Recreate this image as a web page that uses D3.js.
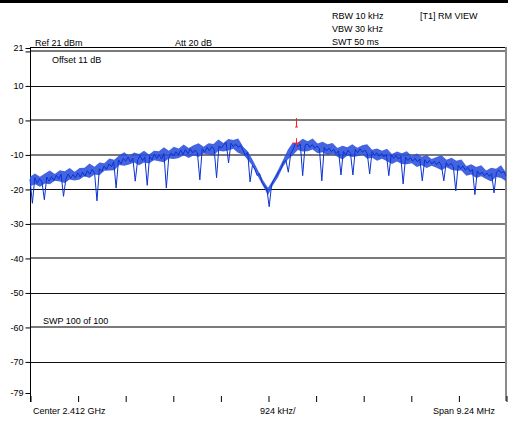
<!DOCTYPE html>
<html><head><meta charset="utf-8">
<script src="https://cdn.jsdelivr.net/npm/d3@7"></script>
<style>
html,body{margin:0;padding:0;background:#fff;}
svg text{font-family:"Liberation Sans",Arial,sans-serif;font-size:9px;fill:#000;}
</style></head>
<body>
<svg id="c" width="508" height="421"></svg>
<script>
// ---- data ----
const spanMHz = 9.24;                 // total span
const yTickValues = [21, 20, 10, 0, -10, -20, -30, -40, -50, -60, -70, -79];
const yTickLabels = ["21", "", "10", "0", "-10", "-20", "-30", "-40", "-50", "-60", "-70", "-79"];
const gridValues = [20, 10, 0, -10, -20, -30, -40, -50, -60, -70];
const xDivisions = [0,1,2,3,4,5,6,7,8,9,10];
const trace = [
 -17.0,-24.0,-16.6,-18.2,-16.9,-17.8,-23.0,-16.4,-17.6,-16.3,
 -17.4,-15.9,-16.9,-15.6,-22.0,-17.0,-15.5,-16.8,-15.7,-16.6,
 -15.2,-16.4,-15.0,-16.2,-14.6,-15.6,-14.2,-15.3,-23.3,-14.0,
 -14.8,-13.2,-14.2,-12.6,-13.4,-12.0,-19.6,-11.4,-12.6,-11.0,
 -11.8,-10.6,-12.0,-10.9,-17.6,-11.5,-10.2,-11.6,-10.6,-18.8,
 -10.4,-11.4,-9.8,-11.0,-10.0,-11.2,-9.6,-19.6,-10.8,-9.4,
 -10.3,-9.0,-10.0,-8.6,-9.8,-8.4,-9.6,-8.2,-9.4,-8.6,
 -9.4,-17.2,-8.2,-9.2,-7.8,-8.8,-7.6,-8.4,-16.6,-7.4,
 -8.0,-7.0,-6.4,-12.3,-6.6,-7.6,-6.8,-7.8,-7.2,-8.6,
 -10.0,-9.2,-17.8,-13.0,-14.2,-16.0,-15.4,-18.0,-19.0,-19.8,
 -25.0,-18.6,-17.0,-16.2,-14.8,-14.0,-12.0,-11.6,-15.0,-9.6,
 -8.4,-6.6,-7.6,-6.8,-16.0,-7.2,-6.8,-7.8,-7.0,-8.0,
 -7.4,-8.2,-17.5,-7.8,-8.8,-8.0,-9.0,-8.4,-9.6,-8.8,
 -15.8,-9.0,-10.0,-8.6,-9.6,-15.8,-8.4,-9.4,-8.2,-9.2,
 -8.6,-9.6,-15.5,-9.0,-10.0,-9.4,-10.4,-9.6,-10.6,-9.8,
 -16.0,-10.0,-11.0,-10.2,-11.2,-10.4,-18.4,-10.6,-11.6,-10.8,
 -11.8,-11.0,-12.0,-11.2,-17.5,-11.4,-12.4,-11.6,-12.6,-11.8,
 -12.8,-12.0,-13.0,-17.5,-12.2,-13.2,-12.4,-13.4,-20.4,-13.0,
 -14.0,-13.2,-14.4,-13.6,-14.8,-14.2,-21.5,-14.6,-15.6,-15.0,
 -16.0,-15.2,-16.2,-15.4,-21.0,-15.0,-14.4,-15.2,-14.8,-16.0
];
// noise band (max / min of the dense trace), 97 points across the span
const bandUpper = [
 -16.3,-15.4,-16.3,-15.4,-14.5,-15.5,-14.4,-14.7,-13.8,-14.9,
 -13.8,-13.7,-12.5,-13.4,-12.2,-12.4,-11.0,-11.4,-10.1,-9.2,
 -10.2,-9.3,-9.7,-8.8,-9.9,-8.8,-8.9,-7.8,-8.8,-7.6,
 -8.1,-7.0,-8.0,-7.2,-6.6,-7.6,-6.6,-6.8,-5.5,-6.5,
 -5.4,-5.7,-5.2,-7.6,-9.1,-11.7,-14.5,-17.3,-19.5,-17.2,
 -14.4,-11.5,-8.5,-6.4,-6.4,-5.3,-6.0,-5.2,-6.7,-6.2,
 -6.9,-6.5,-8.0,-7.3,-7.8,-6.9,-7.9,-7.2,-6.9,-8.5,
 -8.1,-8.8,-8.2,-9.7,-9.0,-9.5,-8.9,-10.3,-9.6,-10.5,
 -10.0,-11.2,-10.6,-10.1,-11.4,-10.8,-11.7,-11.3,-13.2,-12.7,
 -13.5,-13.0,-14.5,-13.7,-14.0,-13.0,-15.1
];
const bandLower = [
 -19.1,-18.5,-19.2,-18.3,-18.5,-17.5,-17.7,-18.1,-17.1,-17.4,
 -17.1,-16.2,-16.7,-15.7,-15.9,-14.6,-14.5,-14.4,-12.9,-13.1,
 -12.8,-12.2,-13.0,-12.2,-12.5,-11.5,-11.8,-12.1,-11.0,-11.2,
 -10.9,-10.1,-10.9,-10.1,-10.6,-9.6,-9.9,-10.2,-8.8,-9.0,
 -8.7,-8.2,-9.4,-9.9,-11.5,-13.4,-16.3,-19.0,-21.7,-18.8,
 -16.5,-13.5,-11.3,-10.1,-8.6,-9.0,-8.9,-8.4,-9.5,-9.2,
 -10.1,-9.7,-10.5,-11.3,-10.2,-10.6,-10.4,-9.9,-11.1,-10.8,
 -11.7,-11.1,-11.8,-12.6,-11.9,-12.6,-12.7,-12.4,-13.5,-13.0,
 -13.8,-13.1,-13.7,-14.4,-13.6,-14.3,-14.6,-14.5,-16.0,-15.7,
 -16.7,-16.2,-17.0,-17.7,-16.4,-16.7,-17.6
];
const markerMHz = 0.55;
const markerLevel = -6.6;
const markerIndicator = [0.7, -1.9];
const headerLeft = ["Ref 21 dBm", "Att  20 dB", "Offset 11 dB", "SWP 100 of 100"];
const headerRight = ["RBW 10 kHz", "VBW 30 kHz", "SWT 50 ms", "[T1] RM VIEW"];
const footer = ["Center 2.412 GHz", "924 kHz/", "Span 9.24 MHz"];

// ---- drawing ----
const svg = d3.select("#c");
const L = 30, R = 506, T = 48, B = 393;
const x = d3.scaleLinear().domain([-spanMHz/2, spanMHz/2]).range([L, R]);
const y = d3.scaleLinear().domain([-79, 21]).range([B, T]);
const xDiv = d3.scaleLinear().domain([0, 10]).range([L, R]);

svg.append("rect").attr("x",0).attr("y",0).attr("width",508).attr("height",3).attr("fill","#000");

// gridlines
const blackGrid = new Set([10, -20, -50, -70]);
svg.append("g").selectAll("line").data(gridValues).join("line")
  .attr("x1", L).attr("x2", R)
  .attr("y1", d => blackGrid.has(d) ? Math.round(y(d)) + 0.5 : Math.round(y(d)))
  .attr("y2", d => blackGrid.has(d) ? Math.round(y(d)) + 0.5 : Math.round(y(d)))
  .attr("stroke", d => blackGrid.has(d) ? "#111" : "#7a7a7a")
  .attr("stroke-width", d => blackGrid.has(d) ? 1 : 2);

// frame: top and right
svg.append("line").attr("x1", L).attr("x2", R+1).attr("y1", 47.5).attr("y2", 47.5).attr("stroke","#000");
svg.append("line").attr("x1", R).attr("x2", R).attr("y1", 47).attr("y2", 401).attr("stroke","#8a8a8a").attr("stroke-width",2);

// y axis
const yAxis = d3.axisLeft(y).tickValues(yTickValues).tickSize(5).tickPadding(2)
  .tickFormat((d,i) => yTickLabels[i]);
const gy = svg.append("g").attr("transform", `translate(${L+0.5},0)`).call(yAxis);
gy.select(".domain").remove();
gy.selectAll("line").attr("stroke","#000");
gy.selectAll("text").style("font-family","Liberation Sans, Arial, sans-serif").style("font-size","9px");
svg.append("line").attr("x1", L+0.5).attr("x2", L+0.5).attr("y1", 47).attr("y2", 402).attr("stroke","#000");

// x axis ticks
const xAxis = d3.axisBottom(xDiv).tickValues(xDivisions).tickSize(6).tickFormat("");
const gx = svg.append("g").attr("transform", `translate(0.5,396)`).call(xAxis);
gx.select(".domain").remove();
gx.selectAll("line").attr("stroke","#000");

// noise band
const nb = bandUpper.length;
const fb = i => -spanMHz/2 + i * spanMHz/(nb-1);
const area = d3.area().x((d,i) => x(fb(i))).y0((d,i) => y(bandLower[i])).y1(d => y(d));
svg.append("path").datum(bandUpper).attr("d", area).attr("fill","#2a4fdc").attr("fill-opacity",0.88);

// trace
const n = trace.length;
const fx = i => -spanMHz/2 + i * spanMHz/(n-1);
const line = d3.line().x((d,i) => x(fx(i))).y(d => y(d));
svg.append("path").datum(trace).attr("d", line)
  .attr("fill","none").attr("stroke","#0b32d2").attr("stroke-width",1).attr("stroke-linejoin","miter");

// marker
const mx = Math.round(x(markerMHz)) + 0.5;
const red = "#ff2020";
svg.append("line").attr("x1", mx).attr("x2", mx).attr("y1", y(markerIndicator[0])).attr("y2", y(markerIndicator[1])).attr("stroke", red);
svg.append("line").attr("x1", mx-1.5).attr("x2", mx+1.5).attr("y1", y(markerIndicator[1])).attr("y2", y(markerIndicator[1])).attr("stroke", red);
const my = y(markerLevel);
svg.append("line").attr("x1", mx).attr("x2", mx).attr("y1", my-5).attr("y2", my+4).attr("stroke", red);
svg.append("line").attr("x1", mx-4).attr("x2", mx+4).attr("y1", Math.round(my)+0.5).attr("y2", Math.round(my)+0.5).attr("stroke", red);

// texts
const t = (s, px, py, anchor) => svg.append("text").attr("x", px).attr("y", py).attr("text-anchor", anchor || "start").text(s);
t(headerLeft[0], 35, 45.5);
t(headerLeft[1], 175, 45.5);
t(headerLeft[2], 52, 62.5);
t(headerLeft[3], 43, 324);
t(headerRight[0], 332, 18.5);
t(headerRight[1], 332, 32);
t(headerRight[2], 332, 45);
t(headerRight[3], 420, 18.5);
t(footer[0], 33, 414);
t(footer[1], 260, 414);
t(footer[2], 495, 414, "end");
</script>
</body></html>
